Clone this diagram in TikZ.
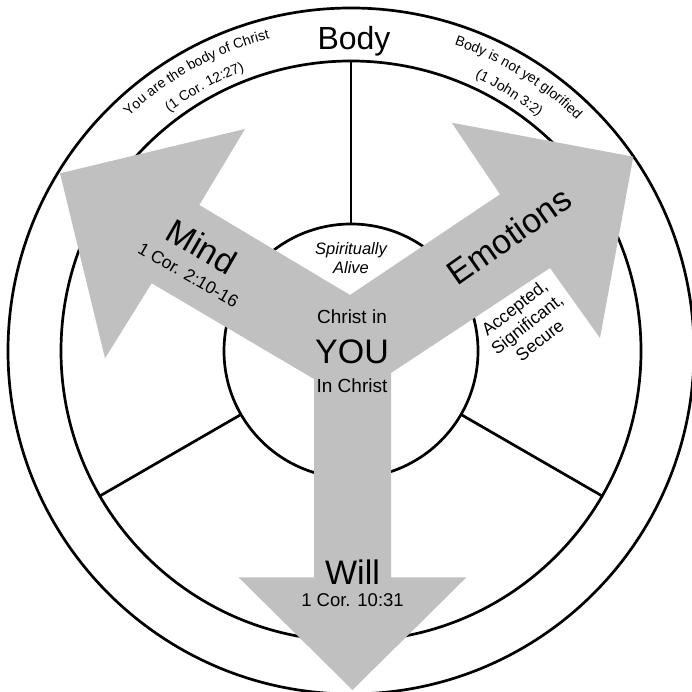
\documentclass[tikz,border=0pt]{standalone}
\usepackage{fontspec}
\setmainfont{Liberation Sans}
\usetikzlibrary{decorations.text,calc}
\definecolor{arrowgray}{HTML}{C0C0C0}
\begin{document}
\begin{tikzpicture}[x=1pt,y=1pt,
  ring/.style={line width=2.7pt,draw=black},
  lbl/.style={inner sep=0pt,text=black},
  arctext/.style={decorate,decoration={text along path,text align=center,text color=black}}]
\useasboundingbox (0,0) rectangle (692,692);
\clip (0,0) rectangle (692,692);
\coordinate (c) at (351,341);
% circles
\draw[ring] (c) circle[radius=343];
\draw[ring] (c) circle[radius=290];
\draw[ring] (c) circle[radius=127];
% spokes
\foreach \a in {90,210,330}{
  \coordinate (s1) at ($(c)+(\a:127)$);
  \coordinate (s2) at ($(c)+(\a:290)$);
  \draw[ring] (s1) -- (s2);
}
% arrows
\fill[arrowgray] (60,518.7) -- (245,563) -- (199.3,487) -- (350,397) -- (500,497.7)
  -- (451.7,569.3) -- (633.3,535.3) -- (600,354) -- (550,424) -- (391,319)
  -- (391,114.7) -- (466.5,114.7) -- (352.5,2) -- (238.5,114.7) -- (314,114.7)
  -- (314,313) -- (151.7,408.7) -- (105,333.7) -- cycle;
% arc texts
\path[arctext,decoration={text={|\fontsize{14}{14}\selectfont|You are the body of Christ}}]
  ($(c)+(150:323)$) arc[start angle=150,end angle=88,radius=323];
\path[arctext,decoration={text={|\fontsize{14}{14}\selectfont|(1 Cor. 12:27)}}]
  ($(c)+(150:300)$) arc[start angle=150,end angle=88,radius=300];
\path[arctext,decoration={text={|\fontsize{14}{14}\selectfont|Body is not yet glorified}}]
  ($(c)+(90:323)$) arc[start angle=90,end angle=27,radius=323];
\path[arctext,decoration={text={|\fontsize{14}{14}\selectfont|(1 John 3:2)}}]
  ($(c)+(90:300)$) arc[start angle=90,end angle=27,radius=300];
% labels
\node[lbl,anchor=base,font=\fontsize{32}{32}\selectfont] (body) at (354,642) {Body};
\node[lbl,anchor=base,font=\fontsize{16.5}{16.5}\selectfont\itshape] (sp1) at (351,437) {Spiritually};
\node[lbl,anchor=base,font=\fontsize{16.5}{16.5}\selectfont\itshape] (sp2) at (351,418.3) {Alive};
\node[lbl,anchor=base,font=\fontsize{19}{19}\selectfont] (cin) at (352,368.7) {Christ in};
\node[lbl,anchor=base,font=\fontsize{34}{34}\selectfont] (you) at (352,328.7) {YOU};
\node[lbl,anchor=base,font=\fontsize{19}{19}\selectfont] (inc) at (352,299.7) {In Christ};
\node[lbl,anchor=base,font=\fontsize{34}{34}\selectfont] (will) at (352.5,107) {Will};
\node[lbl,anchor=base,font=\fontsize{18.5}{18.5}\selectfont] (willref) at (352.5,85.3) {1 Cor. 10:31};
\node[lbl,rotate=-30,font=\fontsize{34}{34}\selectfont] (mind) at (201.7,445.3) {Mind};
\node[lbl,rotate=-30,font=\fontsize{17.5}{17.5}\selectfont] (mindref) at (188.3,417) {1 Cor. 2:10-16};
\node[lbl,rotate=35,font=\fontsize{34}{34}\selectfont] (emo) at (509,456.3) {Emotions};
\node[lbl,rotate=38,align=center,font=\fontsize{17.5}{20.5}\selectfont] (acc) at (527,368) {Accepted,\\Significant,\\Secure};
\end{tikzpicture}
\end{document}
